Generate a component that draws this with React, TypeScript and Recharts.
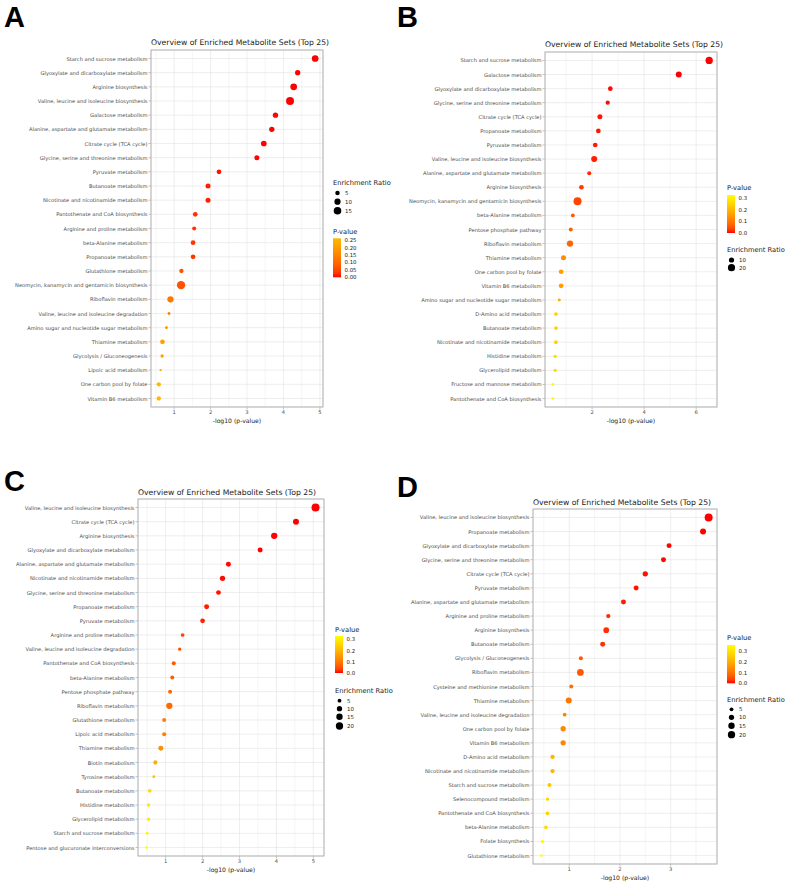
import React from "react";
import {
  ScatterChart,
  Scatter,
  XAxis,
  YAxis,
  ZAxis,
  CartesianGrid,
  Cell,
} from "recharts";

const FONT = '"DejaVu Sans", Verdana, sans-serif';
const TICK_GREY = "#4D4D4D";
const GRID = "#E2E2E2";
const BORDER = "#B3B3B3";

// ---- A ----
const namesA = [
  "Starch and sucrose metabolism",
  "Glyoxylate and dicarboxylate metabolism",
  "Arginine biosynthesis",
  "Valine, leucine and isoleucine biosynthesis",
  "Galactose metabolism",
  "Alanine, aspartate and glutamate metabolism",
  "Citrate cycle (TCA cycle)",
  "Glycine, serine and threonine metabolism",
  "Pyruvate metabolism",
  "Butanoate metabolism",
  "Nicotinate and nicotinamide metabolism",
  "Pantothenate and CoA biosynthesis",
  "Arginine and proline metabolism",
  "beta-Alanine metabolism",
  "Propanoate metabolism",
  "Glutathione metabolism",
  "Neomycin, kanamycin and gentamicin biosynthesis",
  "Riboflavin metabolism",
  "Valine, leucine and isoleucine degradation",
  "Amino sugar and nucleotide sugar metabolism",
  "Thiamine metabolism",
  "Glycolysis / Gluconeogenesis",
  "Lipoic acid metabolism",
  "One carbon pool by folate",
  "Vitamin B6 metabolism",
];
const logPA = [
  4.87, 4.39, 4.28, 4.18, 3.78, 3.68, 3.46, 3.27, 2.23, 1.93, 1.93, 1.58, 1.55,
  1.52, 1.52, 1.2, 1.19, 0.9, 0.86, 0.79, 0.68, 0.67, 0.63, 0.58, 0.58,
];
const ratioA = [
  11.7, 7.2, 11.7, 16.7, 7.2, 7.2, 8.3, 6.4, 5.6, 6.4, 6.4, 5.6, 4.0, 5.6, 5.6,
  4.6, 18, 10.3, 2.1, 1.6, 5.6, 2.6, 1.1, 4.6, 4.6,
];

// ---- B ----
const namesB = [
  "Starch and sucrose metabolism",
  "Galactose metabolism",
  "Glyoxylate and dicarboxylate metabolism",
  "Glycine, serine and threonine metabolism",
  "Citrate cycle (TCA cycle)",
  "Propanoate metabolism",
  "Pyruvate metabolism",
  "Valine, leucine and isoleucine biosynthesis",
  "Alanine, aspartate and glutamate metabolism",
  "Arginine biosynthesis",
  "Neomycin, kanamycin and gentamicin biosynthesis",
  "beta-Alanine metabolism",
  "Pentose phosphate pathway",
  "Riboflavin metabolism",
  "Thiamine metabolism",
  "One carbon pool by folate",
  "Vitamin B6 metabolism",
  "Amino sugar and nucleotide sugar metabolism",
  "D-Amino acid metabolism",
  "Butanoate metabolism",
  "Nicotinate and nicotinamide metabolism",
  "Histidine metabolism",
  "Glycerolipid metabolism",
  "Fructose and mannose metabolism",
  "Pantothenate and CoA biosynthesis",
];
const logPB = [
  6.5, 5.33, 2.7, 2.6, 2.3, 2.24, 2.12, 2.08, 1.89, 1.59, 1.44, 1.26, 1.18, 1.15,
  0.9, 0.81, 0.81, 0.74, 0.61, 0.61, 0.61, 0.58, 0.58, 0.49, 0.49,
];
const ratioB = [
  20.6, 13.5, 7.8, 6.3, 9.0, 7.8, 7.8, 13.5, 5.3, 7.8, 25, 4.4, 5.3, 15, 9, 7.8,
  7.8, 2.4, 4.4, 4.4, 4.4, 3.2, 3.2, 2.4, 2.4,
];

// ---- C ----
const namesC = [
  "Valine, leucine and isoleucine biosynthesis",
  "Citrate cycle (TCA cycle)",
  "Arginine biosynthesis",
  "Glyoxylate and dicarboxylate metabolism",
  "Alanine, aspartate and glutamate metabolism",
  "Nicotinate and nicotinamide metabolism",
  "Glycine, serine and threonine metabolism",
  "Propanoate metabolism",
  "Pyruvate metabolism",
  "Arginine and proline metabolism",
  "Valine, leucine and isoleucine degradation",
  "Pantothenate and CoA biosynthesis",
  "beta-Alanine metabolism",
  "Pentose phosphate pathway",
  "Riboflavin metabolism",
  "Glutathione metabolism",
  "Lipoic acid metabolism",
  "Thiamine metabolism",
  "Biotin metabolism",
  "Tyrosine metabolism",
  "Butanoate metabolism",
  "Histidine metabolism",
  "Glycerolipid metabolism",
  "Starch and sucrose metabolism",
  "Pentose and glucuronate interconversions",
];
const logPC = [
  5.06, 4.53, 3.94, 3.56, 2.7, 2.54, 2.43, 2.11, 2.0, 1.46, 1.38, 1.22, 1.18,
  1.12, 1.1, 0.96, 0.96, 0.87, 0.72, 0.68, 0.57, 0.54, 0.54, 0.5, 0.48,
];
const ratioC = [
  24, 13.2, 14.6, 8.9, 8.9, 10.1, 7.8, 8.9, 7.8, 4.6, 3.5, 5.5, 5.5, 5.5, 14.6,
  5.5, 5.5, 8.9, 6.4, 2.1, 4.6, 3.5, 3.5, 2.8, 2.1,
];

// ---- D ----
const namesD = [
  "Valine, leucine and isoleucine biosynthesis",
  "Propanoate metabolism",
  "Glyoxylate and dicarboxylate metabolism",
  "Glycine, serine and threonine metabolism",
  "Citrate cycle (TCA cycle)",
  "Pyruvate metabolism",
  "Alanine, aspartate and glutamate metabolism",
  "Arginine and proline metabolism",
  "Arginine biosynthesis",
  "Butanoate metabolism",
  "Glycolysis / Gluconeogenesis",
  "Riboflavin metabolism",
  "Cysteine and methionine metabolism",
  "Thiamine metabolism",
  "Valine, leucine and isoleucine degradation",
  "One carbon pool by folate",
  "Vitamin B6 metabolism",
  "D-Amino acid metabolism",
  "Nicotinate and nicotinamide metabolism",
  "Starch and sucrose metabolism",
  "Selenocompound metabolism",
  "Pantothenate and CoA biosynthesis",
  "beta-Alanine metabolism",
  "Folate biosynthesis",
  "Glutathione metabolism",
];
const logPD = [
  3.75, 3.64, 2.97, 2.86, 2.5, 2.32, 2.07, 1.77, 1.73, 1.66, 1.23, 1.22, 1.04,
  0.99, 0.91, 0.88, 0.88, 0.67, 0.67, 0.61, 0.57, 0.57, 0.54, 0.47, 0.45,
];
const ratioD = [
  24, 13.2, 8.9, 8.9, 10.1, 8.9, 8.9, 6.4, 11.8, 8.9, 5.5, 16.6, 5.5, 13.2, 4.6,
  10.1, 10.1, 6.4, 6.4, 5.5, 3.5, 4.6, 4.6, 2.8, 2.1,
];

const TITLE = "Overview of Enriched Metabolite Sets (Top 25)";
const X_TITLE = "-log10 (p-value)";

// colour ramp interpolated in CIE Lab, like ggplot2's scale_colour_gradient
type Lab = [number, number, number];
function hexToLab(hex: string): Lab {
  const n = parseInt(hex.slice(1), 16);
  const [r, g, b] = [(n >> 16) & 255, (n >> 8) & 255, n & 255].map((c) => {
    const v = c / 255;
    return v <= 0.04045 ? v / 12.92 : Math.pow((v + 0.055) / 1.055, 2.4);
  });
  const x = (0.4124 * r + 0.3576 * g + 0.1805 * b) / 0.95047;
  const y = 0.2126 * r + 0.7152 * g + 0.0722 * b;
  const z = (0.0193 * r + 0.1192 * g + 0.9505 * b) / 1.08883;
  const f = (t: number) => (t > 0.008856 ? Math.cbrt(t) : 7.787 * t + 16 / 116);
  const fx = f(x), fy = f(y), fz = f(z);
  return [116 * fy - 16, 500 * (fx - fy), 200 * (fy - fz)];
}
function labToHex([L, a, b]: Lab): string {
  const fy = (L + 16) / 116;
  const fx = fy + a / 500;
  const fz = fy - b / 200;
  const inv = (t: number) => (t ** 3 > 0.008856 ? t ** 3 : (t - 16 / 116) / 7.787);
  const x = inv(fx) * 0.95047, y = inv(fy), z = inv(fz) * 1.08883;
  const lin = [
    3.2406 * x - 1.5372 * y - 0.4986 * z,
    -0.9689 * x + 1.8758 * y + 0.0415 * z,
    0.0557 * x - 0.204 * y + 1.057 * z,
  ];
  return (
    "#" +
    lin
      .map((c) => {
        const v = c <= 0.0031308 ? 12.92 * c : 1.055 * Math.pow(Math.max(c, 0), 1 / 2.4) - 0.055;
        return Math.round(Math.min(1, Math.max(0, v)) * 255).toString(16).padStart(2, "0");
      })
      .join("")
  );
}
function ramp(low: string, high: string) {
  const a = hexToLab(low), b = hexToLab(high);
  return (t: number) => labToHex([0, 1, 2].map((i) => a[i] + (b[i] - a[i]) * t) as Lab);
}

interface PanelSpec {
  id: string;
  letter: [number, number];
  names: string[];
  logP: number[];
  ratio: number[];
  ticks: number[];
  minor: number[];
  chartLeft: number;
  plot: { left: number; top: number; right: number; bottom: number };
  titleY: number;
  size: { lo: number; hi: number; dMin: number; dMax: number };
  high: string;
  legend: {
    x: number;
    pTitleY: number;
    barTop: number;
    barBottom: number;
    pBreaks: number[];
    pDigits: number;
    erTitleY: number;
    erBreaks: number[];
    erY: number[];
  };
}

const panels: PanelSpec[] = [
  {
    id: "A",
    letter: [4, 27],
    names: namesA,
    logP: logPA,
    ratio: ratioA,
    ticks: [1, 2, 3, 4, 5],
    minor: [0.5, 1.5, 2.5, 3.5, 4.5],
    chartLeft: 0,
    plot: { left: 151, top: 50, right: 323, bottom: 407 },
    titleY: 42,
    size: { lo: 1, hi: 18, dMin: 2.2, dMax: 8.3 },
    high: "#FFB800",
    legend: {
      x: 333,
      pTitleY: 231.7,
      barTop: 238.3,
      barBottom: 277.3,
      pBreaks: [0, 0.05, 0.1, 0.15, 0.2, 0.25],
      pDigits: 2,
      erTitleY: 183.3,
      erBreaks: [5, 10, 15],
      erY: [193, 201.7, 210.7],
    },
  },
  {
    id: "B",
    letter: [397, 27],
    names: namesB,
    logP: logPB,
    ratio: ratioB,
    ticks: [2, 4, 6],
    minor: [1, 3, 5],
    chartLeft: 390,
    plot: { left: 545, top: 52, right: 717, bottom: 407 },
    titleY: 44,
    size: { lo: 1.5, hi: 25, dMin: 2.6, dMax: 8 },
    high: "#FFFF00",
    legend: {
      x: 727,
      pTitleY: 188,
      barTop: 195,
      barBottom: 233,
      pBreaks: [0, 0.1, 0.2, 0.3],
      pDigits: 1,
      erTitleY: 250,
      erBreaks: [10, 20],
      erY: [260, 267.7],
    },
  },
  {
    id: "C",
    letter: [4, 491],
    names: namesC,
    logP: logPC,
    ratio: ratioC,
    ticks: [1, 2, 3, 4, 5],
    minor: [0.5, 1.5, 2.5, 3.5, 4.5],
    chartLeft: 0,
    plot: { left: 138, top: 499, right: 324, bottom: 856 },
    titleY: 492.7,
    size: { lo: 1.5, hi: 24, dMin: 2.4, dMax: 8 },
    high: "#FFFF00",
    legend: {
      x: 335,
      pTitleY: 630,
      barTop: 636,
      barBottom: 673,
      pBreaks: [0, 0.1, 0.2, 0.3],
      pDigits: 1,
      erTitleY: 691,
      erBreaks: [5, 10, 15, 20],
      erY: [700.7, 708.7, 716.7, 726],
    },
  },
  {
    id: "D",
    letter: [397, 497],
    names: namesD,
    logP: logPD,
    ratio: ratioD,
    ticks: [1, 2, 3],
    minor: [0.5, 1.5, 2.5, 3.5],
    chartLeft: 390,
    plot: { left: 533, top: 509, right: 717, bottom: 864 },
    titleY: 502.7,
    size: { lo: 1.5, hi: 24, dMin: 2.4, dMax: 8 },
    high: "#FFFF00",
    legend: {
      x: 727,
      pTitleY: 637.7,
      barTop: 645,
      barBottom: 683.3,
      pBreaks: [0, 0.1, 0.2, 0.3],
      pDigits: 1,
      erTitleY: 700,
      erBreaks: [5, 10, 15, 20],
      erY: [709.3, 717.3, 725.7, 734.7],
    },
  },
];

// single-line category label; the default tick wraps long names
function PathwayTick(props: any) {
  const { x, y, payload } = props;
  return (
    <text
      x={x}
      y={y}
      textAnchor="end"
      dominantBaseline="central"
      fontSize={5.15}
      fill={TICK_GREY}
      fontFamily={FONT}
    >
      {payload.value}
    </text>
  );
}

function Panel({ s }: { s: PanelSpec }) {
  const { plot, size, legend } = s;
  const lo = Math.min(...s.logP);
  const hi = Math.max(...s.logP);
  const pad = (hi - lo) * 0.05;
  const pv = s.logP.map((v) => Math.pow(10, -v));
  const pMin = Math.min(...pv);
  const pMax = Math.max(...pv);
  const colour = ramp("#FF0000", s.high);
  const tOf = (p: number) => (p - pMin) / (pMax - pMin);
  const data = s.names.map((name, i) => ({ name, x: s.logP[i], er: s.ratio[i], p: pv[i] }));

  // point area grows linearly with the enrichment ratio
  const a0 = Math.PI * (size.dMin / 2) ** 2;
  const a1 = Math.PI * (size.dMax / 2) ** 2;
  const radius = (v: number) =>
    Math.sqrt((a0 + ((a1 - a0) * (v - size.lo)) / (size.hi - size.lo)) / Math.PI);

  const chartTop = plot.top - 6;
  const width = plot.right + 6 - s.chartLeft;
  const height = plot.bottom + 22 - chartTop;
  const rowPad = ((plot.bottom - plot.top) / 25.2) * 0.1;
  const barH = legend.barBottom - legend.barTop;
  const pY = (p: number) => legend.barBottom - ((p - pMin) / (pMax - pMin)) * barH;
  const gradId = `pv-${s.id}`;

  return (
    <>
      <div style={{ position: "absolute", left: s.chartLeft, top: chartTop }}>
        <ScatterChart
          width={width}
          height={height}
          margin={{ top: 6, right: 6, bottom: 0, left: 0 }}
        >
          <CartesianGrid stroke={GRID} strokeWidth={0.6} />
          <CartesianGrid
            horizontal={false}
            stroke={GRID}
            strokeWidth={0.35}
            verticalCoordinatesGenerator={({ xAxis, offset }: any) =>
              s.minor.map((v) =>
                xAxis && typeof xAxis.scale === "function"
                  ? xAxis.scale(v)
                  : offset.left + ((v - (lo - pad)) / (hi - lo + 2 * pad)) * offset.width
              )
            }
          />
          <XAxis
            type="number"
            dataKey="x"
            domain={[lo - pad, hi + pad]}
            ticks={s.ticks}
            allowDataOverflow
            height={22}
            axisLine={false}
            tickSize={2.5}
            tickMargin={1}
            tickLine={{ stroke: BORDER, strokeWidth: 0.8 }}
            tick={{ fontSize: 5.2, fill: TICK_GREY, fontFamily: FONT }}
            label={{
              value: X_TITLE,
              position: "insideBottom",
              offset: 6.5,
              style: { fontSize: 6.1, fill: "#1A1A1A", fontFamily: FONT },
            }}
          />
          <YAxis
            type="category"
            dataKey="name"
            reversed
            interval={0}
            width={plot.left - s.chartLeft}
            padding={{ top: rowPad, bottom: rowPad }}
            axisLine={false}
            tickSize={2.5}
            tickMargin={1}
            tickLine={{ stroke: BORDER, strokeWidth: 0.8 }}
            tick={<PathwayTick />}
          />
          <ZAxis type="number" dataKey="er" domain={[size.lo, size.hi]} range={[a0, a1]} />
          <Scatter data={data} isAnimationActive={false}>
            {data.map((d) => (
              <Cell key={d.name} fill={colour(tOf(d.p))} />
            ))}
          </Scatter>
        </ScatterChart>
      </div>
      <svg
        width={787}
        height={883}
        style={{ position: "absolute", left: 0, top: 0, pointerEvents: "none" }}
        fontFamily={FONT}
      >
        <defs>
          <linearGradient id={gradId} x1="0" y1="1" x2="0" y2="0">
            {Array.from({ length: 11 }, (_, k) => (
              <stop key={k} offset={k / 10} stopColor={colour(k / 10)} />
            ))}
          </linearGradient>
        </defs>
        <rect
          x={plot.left}
          y={plot.top}
          width={plot.right - plot.left}
          height={plot.bottom - plot.top}
          fill="none"
          stroke={BORDER}
          strokeWidth={1}
        />
        <text
          x={s.letter[0]}
          y={s.letter[1]}
          fontFamily='"Liberation Sans", Arial, sans-serif'
          fontWeight="bold"
          fontSize={29}
          fill="#000"
        >
          {s.id}
        </text>
        <text x={plot.left} y={s.titleY} dominantBaseline="central" fontSize={7.7} fill="#1A1A1A">
          {TITLE}
        </text>

        <text x={legend.x} y={legend.pTitleY} dominantBaseline="central" fontSize={6.7} fill="#1A1A1A">
          P-value
        </text>
        <rect x={legend.x} y={legend.barTop} width={8} height={barH} fill={`url(#${gradId})`} />
        {legend.pBreaks.map((p) => (
          <text
            key={p}
            x={legend.x + 11.5}
            y={pY(p)}
            dominantBaseline="central"
            fontSize={5.4}
            fill="#1A1A1A"
          >
            {p.toFixed(legend.pDigits)}
          </text>
        ))}

        <text x={legend.x} y={legend.erTitleY} dominantBaseline="central" fontSize={6.7} fill="#1A1A1A">
          Enrichment Ratio
        </text>
        {legend.erBreaks.map((v, i) => (
          <g key={v}>
            <circle cx={legend.x + 4.5} cy={legend.erY[i]} r={radius(v)} fill="#000" />
            <text
              x={legend.x + 12}
              y={legend.erY[i]}
              dominantBaseline="central"
              fontSize={5.4}
              fill="#1A1A1A"
            >
              {v}
            </text>
          </g>
        ))}
      </svg>
    </>
  );
}

export default function App() {
  return (
    <div
      style={{
        position: "absolute",
        left: 0,
        top: 0,
        width: 787,
        height: 883,
        background: "#fff",
        overflow: "hidden",
      }}
    >
      {panels.map((s) => (
        <Panel key={s.id} s={s} />
      ))}
    </div>
  );
}
